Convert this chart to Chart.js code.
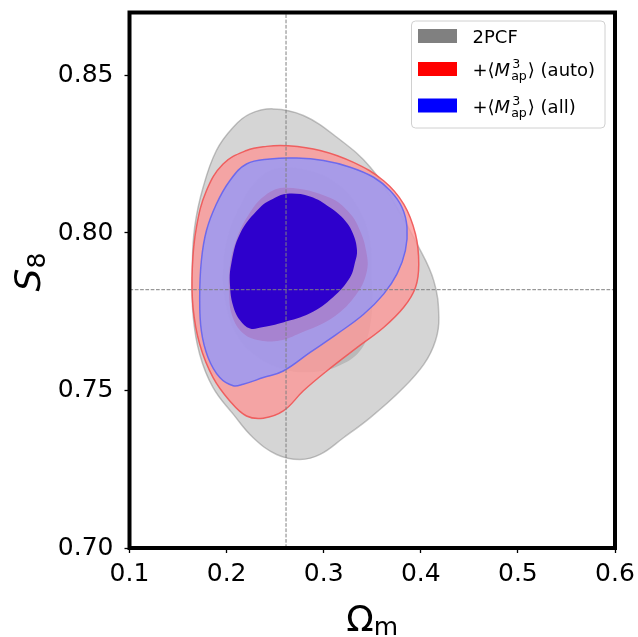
<!DOCTYPE html>
<html>
<head>
<meta charset="utf-8">
<script src="https://cdn.jsdelivr.net/npm/chart.js@4.4.0/dist/chart.umd.min.js"></script>
<style>
  html, body { margin: 0; padding: 0; background: #fff; }
  canvas { display: block; }
</style>
</head>
<body>
<canvas id="contours" width="638" height="637"></canvas>
<script>
// axes
const xTicks = [0.1, 0.2, 0.3, 0.4, 0.5, 0.6];
const yTicks = [0.70, 0.75, 0.80, 0.85];
const xRange = [0.1, 0.6];
const yRange = [0.70, 0.87];

// fiducial cosmology (dashed crosshair)
const omegaFid = [0.2612];
const s8Fid = [0.782];

// contours, [Omega_m, S8]
const pcfOuter = [
  [0.2481, 0.8394], [0.2791, 0.8373], [0.3135, 0.8304], [0.3480, 0.8209], [0.3755, 0.8081],
  [0.3962, 0.7965], [0.4134, 0.7848], [0.4186, 0.7732], [0.4151, 0.7658], [0.4031, 0.7583],
  [0.3790, 0.7499], [0.3480, 0.7414], [0.3204, 0.7350], [0.2963, 0.7297], [0.2756, 0.7281],
  [0.2515, 0.7297], [0.2274, 0.7350], [0.2068, 0.7425], [0.1861, 0.7509], [0.1723, 0.7615],
  [0.1654, 0.7742], [0.1647, 0.7891], [0.1671, 0.8018], [0.1758, 0.8145], [0.1895, 0.8262],
  [0.2068, 0.8336], [0.2240, 0.8378]
];
const pcfInner = [
  [0.2498, 0.8204], [0.2859, 0.8198], [0.3168, 0.8150], [0.3374, 0.8071], [0.3477, 0.7976],
  [0.3497, 0.7849], [0.3487, 0.7723], [0.3394, 0.7634], [0.3168, 0.7580], [0.2859, 0.7558],
  [0.2550, 0.7571], [0.2292, 0.7612], [0.2107, 0.7675], [0.1994, 0.7770], [0.1963, 0.7881],
  [0.2014, 0.7992], [0.2138, 0.8087], [0.2292, 0.8160]
];
const autoOuter = [
  [0.2619, 0.8277], [0.2963, 0.8262], [0.3307, 0.8224], [0.3617, 0.8166], [0.3824, 0.8092],
  [0.3945, 0.7997], [0.3979, 0.7901], [0.3945, 0.7827], [0.3824, 0.7764], [0.3617, 0.7700],
  [0.3342, 0.7636], [0.3032, 0.7562], [0.2791, 0.7499], [0.2584, 0.7435], [0.2378, 0.7412],
  [0.2205, 0.7419], [0.2033, 0.7467], [0.1861, 0.7541], [0.1723, 0.7647], [0.1654, 0.7764],
  [0.1647, 0.7891], [0.1689, 0.8018], [0.1792, 0.8134], [0.1964, 0.8219], [0.2205, 0.8262],
  [0.2412, 0.8275]
];
const autoInner = [
  [0.2622, 0.8144], [0.3065, 0.8112], [0.3271, 0.8062], [0.3374, 0.8008], [0.3436, 0.7945],
  [0.3446, 0.7881], [0.3343, 0.7808], [0.3096, 0.7732], [0.2756, 0.7682], [0.2550, 0.7659],
  [0.2344, 0.7659], [0.2169, 0.7682], [0.2056, 0.7738], [0.2025, 0.7818], [0.2035, 0.7897],
  [0.2097, 0.7976], [0.2220, 0.8055], [0.2395, 0.8119]
];
const allOuter = [
  [0.2205, 0.8219], [0.2446, 0.8235], [0.2722, 0.8238], [0.2998, 0.8230], [0.3273, 0.8209],
  [0.3514, 0.8177], [0.3686, 0.8134], [0.3807, 0.8081], [0.3858, 0.8018], [0.3841, 0.7944],
  [0.3755, 0.7870], [0.3617, 0.7806], [0.3411, 0.7742], [0.3135, 0.7679], [0.2860, 0.7621],
  [0.2584, 0.7562], [0.2378, 0.7541], [0.2171, 0.7520], [0.2068, 0.7515], [0.1930, 0.7541],
  [0.1809, 0.7605], [0.1740, 0.7689], [0.1723, 0.7795], [0.1740, 0.7912], [0.1792, 0.8007],
  [0.1895, 0.8092], [0.2033, 0.8166]
];
const allInner = [
  [0.2622, 0.8125], [0.2859, 0.8116], [0.3065, 0.8081], [0.3219, 0.8040], [0.3302, 0.7998],
  [0.3343, 0.7945], [0.3322, 0.7906], [0.3271, 0.7859], [0.3096, 0.7796], [0.2859, 0.7745],
  [0.2581, 0.7716], [0.2365, 0.7701], [0.2241, 0.7697], [0.2138, 0.7723], [0.2066, 0.7770],
  [0.2035, 0.7834], [0.2045, 0.7897], [0.2138, 0.7998], [0.2344, 0.8081], [0.2498, 0.8112]
];

const legendColors = ['#808080', '#ff0000', '#0000ff'];
const legendLabels = [
  [{ t: '2PCF' }],
  [{ t: '+⟨' }, { t: 'M', it: true }, { sup: '3', sub: 'ap' }, { t: '⟩ (auto)' }],
  [{ t: '+⟨' }, { t: 'M', it: true }, { sup: '3', sub: 'ap' }, { t: '⟩ (all)' }]
];

const FONT = 'DejaVu Sans';
Chart.defaults.font.family = FONT;
Chart.defaults.color = '#000';

const pts = arr => arr.map(p => ({ x: p[0], y: p[1] }));

function contour(data, fill, border, bw, order) {
  return {
    data: pts(data),
    closed: true,
    showLine: true,
    fill: 'shape',
    backgroundColor: fill,
    borderColor: border,
    borderWidth: bw,
    tension: 0.4,
    pointRadius: 0,
    order: order
  };
}

// make the contour lines closed smooth loops
const loopLines = {
  id: 'loopLines',
  afterDatasetsUpdate(chart) {
    chart.data.datasets.forEach((ds, i) => {
      if (!ds.closed) return;
      const line = chart.getDatasetMeta(i).dataset;
      line._loop = true;
      line._fullLoop = true;
    });
  }
};

const frame = {
  id: 'frame',
  afterDatasetsDraw(chart) {
    const { ctx, chartArea: a } = chart;
    ctx.save();
    ctx.strokeStyle = '#000';
    ctx.lineWidth = 4;
    ctx.strokeRect(a.left, a.top, a.right - a.left, a.bottom - a.top);
    ctx.restore();
  }
};

const labelsAndLegend = {
  id: 'labelsAndLegend',
  afterDraw(chart) {
    const { ctx, chartArea: a } = chart;
    ctx.save();
    ctx.fillStyle = '#000';
    ctx.textBaseline = 'alphabetic';

    // x title: Omega_m
    ctx.font = '36px ' + FONT;
    const wO = ctx.measureText('Ω').width;
    ctx.font = '25px ' + FONT;
    const wm = ctx.measureText('m').width;
    let x0 = (a.left + a.right) / 2 - (wO + wm) / 2;
    ctx.font = '36px ' + FONT;
    ctx.fillText('Ω', x0, 631);
    ctx.font = '25px ' + FONT;
    ctx.fillText('m', x0 + wO, 635);

    // y title: S_8
    ctx.save();
    ctx.translate(40, 272);
    ctx.rotate(-Math.PI / 2);
    ctx.font = 'italic 36px ' + FONT;
    const wS = ctx.measureText('S').width;
    ctx.font = '25px ' + FONT;
    const w8 = ctx.measureText('8').width;
    const s0 = -(wS + w8) / 2;
    ctx.font = 'italic 36px ' + FONT;
    ctx.fillText('S', s0, 0);
    ctx.font = '25px ' + FONT;
    ctx.fillText('8', s0 + wS, 5);
    ctx.restore();

    // legend
    const bx = 411.5, by = 21, bw = 193.5, bh = 107;
    ctx.beginPath();
    ctx.roundRect(bx, by, bw, bh, 4);
    ctx.fillStyle = 'rgba(255,255,255,0.8)';
    ctx.fill();
    ctx.strokeStyle = '#d0d0d0';
    ctx.lineWidth = 1;
    ctx.stroke();
    const rows = [36, 69, 105.5];
    legendLabels.forEach((parts, i) => {
      const cy = rows[i];
      ctx.fillStyle = legendColors[i];
      ctx.fillRect(418, cy - 7, 39, 14);
      ctx.fillStyle = '#000';
      let x = 472.5;
      const base = cy + 7;
      parts.forEach(p => {
        if (p.t) {
          ctx.font = (p.it ? 'italic ' : '') + '18px ' + FONT;
          ctx.fillText(p.t, x, base);
          x += ctx.measureText(p.t).width + (p.it ? 1 : 0);
        } else {
          ctx.font = '12.6px ' + FONT;
          ctx.fillText(p.sup, x + 1, base - 8);
          ctx.fillText(p.sub, x, base + 4);
          x += Math.max(ctx.measureText(p.sup).width + 1, ctx.measureText(p.sub).width) + 1;
        }
      });
    });
    ctx.restore();
  }
};

new Chart(document.getElementById('contours'), {
  type: 'scatter',
  data: {
    datasets: [
      contour(pcfOuter, 'rgba(128,128,128,0.33)', 'rgba(128,128,128,0.45)', 1.5, 8),
      contour(pcfInner, 'rgba(128,128,128,0.33)', 'rgba(128,128,128,0)', 0, 7),
      contour(autoOuter, 'rgba(252,152,152,0.8)', 'rgba(240,85,85,0.9)', 1.5, 6),
      contour(autoInner, 'rgba(240,40,40,0.9)', 'rgba(240,40,40,0)', 0, 5),
      contour(allOuter, 'rgba(149,153,249,0.8)', 'rgba(100,100,240,0.9)', 1.5, 4),
      contour(allInner, 'rgba(46,0,204,1)', 'rgba(46,0,204,0)', 0, 3),
      {
        data: [{ x: omegaFid[0], y: yRange[0] }, { x: omegaFid[0], y: yRange[1] }],
        showLine: true, fill: false, borderColor: '#808080', borderWidth: 1,
        borderDash: [3.7, 1.6], pointRadius: 0, order: 1
      },
      {
        data: [{ x: xRange[0], y: s8Fid[0] }, { x: xRange[1], y: s8Fid[0] }],
        showLine: true, fill: false, borderColor: '#808080', borderWidth: 1,
        borderDash: [3.7, 1.6], pointRadius: 0, order: 1
      }
    ]
  },
  options: {
    responsive: false,
    animation: false,
    devicePixelRatio: 1,
    events: [],
    layout: { padding: { top: 12.5, right: 23, bottom: 0, left: 0 } },
    plugins: { legend: { display: false }, tooltip: { enabled: false } },
    scales: {
      x: {
        type: 'linear',
        min: xRange[0],
        max: xRange[1],
        afterBuildTicks: s => { s.ticks = xTicks.map(v => ({ value: v })); },
        afterFit: s => { s.height = 89; s.paddingLeft = 0; s.paddingRight = 0; },
        ticks: { font: { size: 25 }, padding: 6, callback: v => v.toFixed(1), maxRotation: 0 },
        grid: { drawOnChartArea: false, drawTicks: true, tickLength: 5, tickColor: '#000', tickWidth: 1.3 },
        border: { display: false }
      },
      y: {
        type: 'linear',
        min: yRange[0],
        max: yRange[1],
        afterBuildTicks: s => { s.ticks = yTicks.map(v => ({ value: v })); },
        afterFit: s => { s.width = 129.5; s.paddingTop = 0; s.paddingBottom = 0; },
        ticks: { font: { size: 25 }, padding: 11, callback: v => v.toFixed(2) },
        grid: { drawOnChartArea: false, drawTicks: true, tickLength: 5, tickColor: '#000', tickWidth: 1.3 },
        border: { display: false }
      }
    }
  },
  plugins: [loopLines, frame, labelsAndLegend]
});
</script>
</body>
</html>
